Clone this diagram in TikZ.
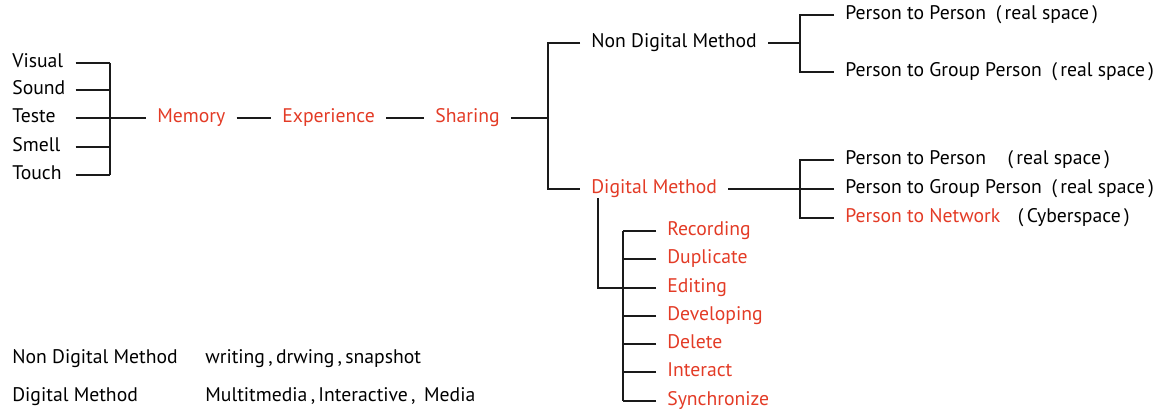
\documentclass[tikz,border=0pt]{standalone}
\usepackage{fontspec}
\setmainfont{PT Sans}
\usepackage{xcolor}
\usepackage{tikz}
\definecolor{XPRed}{HTML}{E33B26}
\definecolor{XPLine}{HTML}{1A1A1A}
\newcommand{\rs}[1]{\hspace{0.5em}(\,#1\,)}
\begin{document}
\begin{tikzpicture}[x=0.02cm,y=-0.02cm,
  every node/.style={font=\fontsize{11.2}{13}\selectfont,inner ysep=0pt,inner xsep=0.22cm,
    text height=0.75em,text depth=0.25em,anchor=west},
  sense/.style={inner xsep=0pt,text width=1.26cm},
  hot/.style={text=XPRed},
  wire/.style={draw=XPLine,line width=1.15pt}]
\path[use as bounding box] (0,0) rectangle (1165,412);
% senses
\node[sense] (Visual) at (12,63) {Visual};
\node[sense] (Sound) at (12,90) {Sound};
\node[sense] (Teste) at (12,118) {Teste};
\node[sense] (Smell) at (12,147) {Smell};
\node[sense] (Touch) at (12,175) {Touch};
\coordinate (senseJ) at (110,118);
\foreach \s in {Visual,Sound,Smell,Touch}
  \draw[wire] (\s.east) -- (\s.east -| senseJ);
\draw[wire] (Visual.east -| senseJ) -- (Touch.east -| senseJ);
% main chain
\node[hot] (Memory) at (146,118) {Memory};
\node[hot] (Experience) at (271,118) {Experience};
\node[hot] (Sharing) at (424,118) {Sharing};
\draw[wire] (Teste.east) -- (Memory.west);
\draw[wire] (Memory.east) -- (Experience.west);
\draw[wire] (Experience.east) -- (Sharing.west);
% methods
\coordinate (shareJ) at (548,118);
\node (NonDig) at (580,43) {Non Digital Method};
\node[hot] (Dig) at (580,189) {Digital Method};
\draw[wire] (Sharing.east) -- (shareJ);
\draw[wire] (NonDig.west) -| (shareJ) |- (Dig.west);
% non digital targets
\coordinate (ndJ) at (800,43);
\node (ndA) at (834,15) {Person to Person\rs{real space}};
\node (ndB) at (834,72) {Person to Group Person\rs{real space}};
\draw[wire] (NonDig.east) -- (ndJ);
\draw[wire] (ndA.west) -| (ndJ) |- (ndB.west);
% digital targets
\coordinate (dJ) at (800,189);
\node (dA) at (834,160) {Person to Person\hspace{0.6em}\rs{real space}};
\node (dB) at (834,189) {Person to Group Person\rs{real space}};
\node (dC) at (834,218) {\textcolor{XPRed}{Person to Network}\hspace{0.4em}\rs{Cyberspace}};
\draw[wire] (Dig.east) -- (dJ);
\draw[wire] (dA.west) -| (dJ) |- (dC.west);
\draw[wire] (dB.west) -- (dJ);
% digital actions
\coordinate (digDown) at (598,288);
\coordinate (actJ) at (623,288);
\node[hot] (Recording) at (656,231) {Recording};
\node[hot] (Duplicate) at (656,259) {Duplicate};
\node[hot] (Editing) at (656,288) {Editing};
\node[hot] (Developing) at (656,316) {Developing};
\node[hot] (Delete) at (656,344) {Delete};
\node[hot] (Interact) at (656,372) {Interact};
\node[hot] (Synchronize) at (656,401) {Synchronize};
\draw[wire] (Dig.south -| digDown) -- (digDown) -- (actJ);
\foreach \a in {Recording,Duplicate,Editing,Developing,Delete,Interact,Synchronize}
  \draw[wire] (\a.west) -- (\a.west -| actJ);
\draw[wire] (Recording.west -| actJ) -- (Synchronize.west -| actJ);
% legend
\node[inner xsep=0pt] (legNon) at (12,359) {Non Digital Method};
\node[inner xsep=0pt] (legNonTxt) at (205,359) {writing\,,\,drwing\,,\,snapshot};
\node[inner xsep=0pt] (legDig) at (12,397) {Digital Method};
\node[inner xsep=0pt] (legDigTxt) at (205,397) {Multitmedia\,,\,Interactive\,,\ \,Media};
\end{tikzpicture}
\end{document}
